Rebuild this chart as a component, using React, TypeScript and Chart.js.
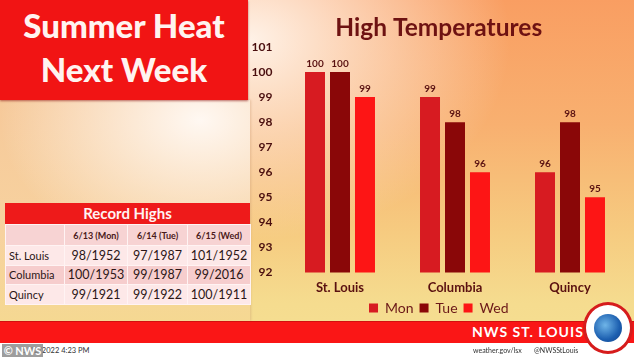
import React, { useEffect, useRef } from "react";
import { Chart, registerables } from "chart.js";

Chart.register(...registerables);

const cities = ["St. Louis", "Columbia", "Quincy"];
const monHighs = [100, 99, 96];
const tueHighs = [100, 98, 98];
const wedHighs = [99, 96, 95];
const yTicks = [92, 93, 94, 95, 96, 97, 98, 99, 100, 101];

const recordCols = ["6/13 (Mon)", "6/14 (Tue)", "6/15 (Wed)"];
const recordStL = ["98/1952", "97/1987", "101/1952"];
const recordCol = ["100/1953", "99/1987", "99/2016"];
const recordQuin = ["99/1921", "99/1922", "100/1911"];

const FONT = "Lato, 'Open Sans', sans-serif";

const valueLabels = {
  id: "valueLabels",
  afterDatasetsDraw(chart: any) {
    const ctx = chart.ctx;
    ctx.save();
    ctx.font = `bold 10px ${FONT}`;
    ctx.fillStyle = "#5a1212";
    ctx.textAlign = "center";
    ctx.textBaseline = "middle";
    chart.data.datasets.forEach((ds: any, i: number) => {
      const meta = chart.getDatasetMeta(i);
      meta.data.forEach((bar: any, j: number) => {
        ctx.fillText(String(ds.data[j]), bar.x, bar.y - 8);
      });
    });
    ctx.restore();
  },
};

function TempChart() {
  const ref = useRef<HTMLCanvasElement | null>(null);
  useEffect(() => {
    if (!ref.current) return;
    const chart = new Chart(ref.current, {
      type: "bar",
      data: {
        labels: cities,
        datasets: [
          { label: "Mon", data: monHighs, backgroundColor: "#d71b21" },
          { label: "Tue", data: tueHighs, backgroundColor: "#8a0708" },
          { label: "Wed", data: wedHighs, backgroundColor: "#fd1515" },
        ],
      },
      options: {
        responsive: false,
        animation: false,
        layout: { padding: { left: 0, right: 6.5, top: 0, bottom: 5 } },
        datasets: { bar: { categoryPercentage: 0.652, barPercentage: 0.8 } },
        scales: {
          x: {
            grid: { display: false, drawTicks: false },
            border: { display: false },
            afterFit: (axis: any) => {
              axis.height = 22.6;
            },
            ticks: { color: "#5a1010", font: { family: FONT, size: 13, weight: "bold" }, padding: 8 },
          },
          y: {
            min: 92,
            max: 101,
            grid: { display: false, drawTicks: false },
            border: { display: false },
            afterBuildTicks: (axis: any) => {
              axis.ticks = yTicks.map((v) => ({ value: v }));
            },
            afterFit: (axis: any) => {
              axis.width = 32.5;
            },
            ticks: { color: "#4a0f0f", font: { family: FONT, size: 12, weight: "bold" }, padding: 10 },
          },
        },
        plugins: {
          title: {
            display: true,
            text: "High Temperatures",
            color: "#6e1212",
            font: { family: FONT, size: 24.5, weight: "bold" },
            padding: { top: 13, bottom: 4.6 },
          },
          legend: {
            position: "bottom",
            labels: {
              boxWidth: 9,
              boxHeight: 9,
              color: "#6b1818",
              font: { family: FONT, size: 14 },
              padding: 6,
            },
          },
          tooltip: { enabled: false },
        },
      },
      plugins: [valueLabels],
    } as any);
    return () => chart.destroy();
  }, []);
  return (
    <canvas
      ref={ref}
      width={384}
      height={330}
      style={{ position: "absolute", left: 250, top: 0, width: 384, height: 330, display: "block" }}
    />
  );
}

const cellBase: React.CSSProperties = {
  border: "1px solid #fff3f3",
  padding: 0,
  textAlign: "center",
  color: "#2b1616",
  fontFamily: FONT,
};

export default function App() {
  const rows: [string, string[], string][] = [
    ["St. Louis", recordStL, "#fde8e8"],
    ["Columbia", recordCol, "#f6cdcd"],
    ["Quincy", recordQuin, "#fde8e8"],
  ];
  return (
    <div
      style={{
        position: "fixed",
        left: 0,
        top: 0,
        width: 634,
        height: 357,
        overflow: "hidden",
        fontFamily: FONT,
        background:
          "radial-gradient(ellipse 260px 200px at 250px 40px, rgba(255,246,238,0.95) 0%, rgba(255,240,226,0) 100%), linear-gradient(180deg, #f99e62 0%, #f8b070 35%, #f6cb80 65%, #f5dc8f 85%, #f5df92 100%)",
      }}
    >
      {/* left panel */}
      <div
        style={{
          position: "absolute",
          left: 0,
          top: 100,
          width: 250,
          height: 221,
          background:
            "radial-gradient(ellipse 200px 140px at 200px 20px, rgba(255,248,242,1) 0%, rgba(255,245,235,0) 100%), linear-gradient(180deg, #f6c99a 0%, #f7d29f 60%, #f5d892 100%)",
          boxShadow: "1px 0 2px rgba(200,150,110,0.4)",
        }}
      />
      {/* title box */}
      <div
        style={{
          position: "absolute",
          left: 0,
          top: 0,
          width: 248,
          height: 100,
          background: "#f11414",
          boxShadow: "0 1px 2px rgba(140,20,20,0.6)",
          color: "#fff3f0",
          fontWeight: 900,
          fontSize: 33,
          lineHeight: "44px",
          textAlign: "center",
          paddingTop: 3,
          boxSizing: "border-box",
        }}
      >
        <div>Summer Heat</div>
        <div>Next Week</div>
      </div>
      {/* record table */}
      <div
        style={{
          position: "absolute",
          left: 5,
          top: 203,
          width: 245,
          height: 21,
          background: "#ee1a1a",
          color: "#fff2f2",
          fontWeight: 700,
          fontSize: 15,
          lineHeight: "21px",
          textAlign: "center",
        }}
      >
        Record Highs
      </div>
      <table
        style={{
          position: "absolute",
          left: 5,
          top: 224,
          width: 245,
          borderCollapse: "collapse",
          tableLayout: "fixed",
        }}
      >
        <colgroup>
          <col style={{ width: 59 }} />
          <col style={{ width: 63 }} />
          <col style={{ width: 60 }} />
          <col style={{ width: 63 }} />
        </colgroup>
        <tbody>
          <tr style={{ height: 21, background: "#f7d3d3" }}>
            <td style={cellBase}></td>
            {recordCols.map((c) => (
              <td key={c} style={{ ...cellBase, fontSize: 9, fontWeight: 700, color: "#4a1a1a" }}>
                {c}
              </td>
            ))}
          </tr>
          {rows.map(([name, vals, bg]) => (
            <tr key={name} style={{ height: 19.5, background: bg }}>
              <td style={{ ...cellBase, textAlign: "left", paddingLeft: 3, fontSize: 11 }}>{name}</td>
              {vals.map((v, i) => (
                <td key={i} style={{ ...cellBase, fontSize: 12.5 }}>
                  {v}
                </td>
              ))}
            </tr>
          ))}
        </tbody>
      </table>

      <TempChart />

      {/* footer */}
      <div
        style={{
          position: "absolute",
          left: 0,
          top: 321,
          width: 634,
          height: 22,
          background: "#fa1616",
          borderTop: "1px solid #d21010",
          boxSizing: "border-box",
        }}
      />
      <div
        style={{
          position: "absolute",
          left: 0,
          top: 343,
          width: 634,
          height: 14,
          background: "#ffffff",
        }}
      />
      <div
        style={{
          position: "absolute",
          left: 472,
          top: 324,
          color: "#ffffff",
          fontWeight: 700,
          fontSize: 14,
          letterSpacing: 1,
          lineHeight: "16px",
          whiteSpace: "nowrap",
        }}
      >
        NWS ST. LOUIS
      </div>
      <div style={{ position: "absolute", left: 473, top: 346, fontSize: 7, color: "#333", whiteSpace: "nowrap" }}>
        weather.gov/lsx
      </div>
      <div style={{ position: "absolute", left: 534, top: 346, fontSize: 7, color: "#333", whiteSpace: "nowrap" }}>
        @NWSStLouis
      </div>
      {/* logo */}
      <div
        style={{
          position: "absolute",
          left: 583,
          top: 302,
          width: 50,
          height: 52,
          borderRadius: "50%",
          background: "#ffffff",
          border: "3px solid #d61c1c",
          boxSizing: "border-box",
        }}
      >
        <div
          style={{
            position: "absolute",
            left: 8,
            top: 9,
            width: 28,
            height: 28,
            borderRadius: "50%",
            background: "radial-gradient(circle at 40% 40%, #6fb5e8 0%, #1c5fb0 60%, #123e86 100%)",
          }}
        />
      </div>
      {/* timestamp */}
      <div style={{ position: "absolute", left: 22, top: 346, fontSize: 7.5, color: "#333", whiteSpace: "nowrap" }}>
        6/12/2022 4:23 PM
      </div>
      <div
        style={{
          position: "absolute",
          left: 2,
          top: 344,
          width: 41,
          height: 13,
          background: "rgba(140,140,140,0.85)",
          color: "#ffffff",
          fontSize: 11,
          fontWeight: 700,
          lineHeight: "13px",
          textAlign: "center",
        }}
      >
        © NWS
      </div>
    </div>
  );
}
